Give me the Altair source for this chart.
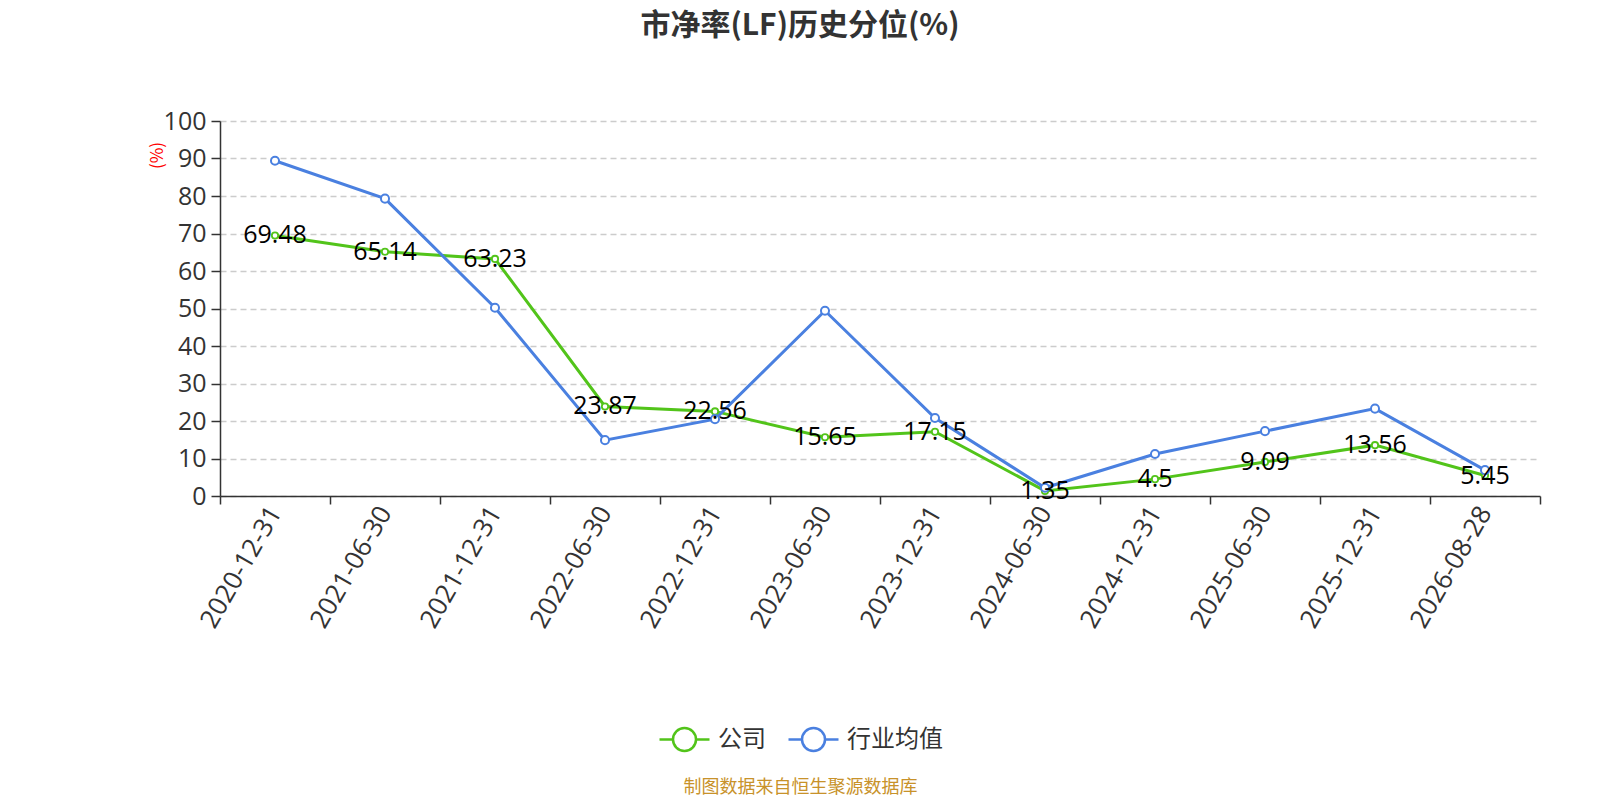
import altair as alt
import pandas as pd

dates = ["2020-12-31", "2021-06-30", "2021-12-31", "2022-06-30", "2022-12-31", "2023-06-30",
         "2023-12-31", "2024-06-30", "2024-12-31", "2025-06-30", "2025-12-31", "2026-08-28"]
company = [69.48, 65.14, 63.23, 23.87, 22.56, 15.65, 17.15, 1.35, 4.5, 9.09, 13.56, 5.45]
industry = [89.4, 79.3, 50.2, 14.9, 20.5, 49.4, 20.8, 2.2, 11.2, 17.3, 23.3, 6.9]
series_names = ["公司", "行业均值"]
colors = ["#52c41a", "#4a80e0"]

CJK = "Noto Sans CJK SC"
NUM = "Open Sans"

rows = []
for i, d in enumerate(dates):
    rows.append({"date": d, "series": series_names[0], "value": company[i], "label": f"{company[i]:g}"})
    rows.append({"date": d, "series": series_names[1], "value": industry[i], "label": ""})
df = pd.DataFrame(rows)

legend_path = ("M-1,0 L-0.46,0 M0.46,0 L1,0 "
               "M-0.46,0 A0.46,0.46 0 1,1 0.46,0 A0.46,0.46 0 1,1 -0.46,0 Z")

x = alt.X("date:N", sort=dates,
          scale=alt.Scale(type="band", paddingInner=0, paddingOuter=0),
          axis=alt.Axis(title="制图数据来自恒生聚源数据库", titleColor="#c8922a", titleFontSize=18,
                        titleFontWeight="normal", titleFont=CJK,
                        titleX=580, titleY=291, titleAnchor="middle", titleBaseline="middle",
                        labelAngle=-60, labelAlign="right", labelBaseline="middle",
                        labelFontSize=26, labelColor="#333333", labelFont=NUM, labelPadding=4,
                        tickBand="extent", tickColor="#333333", tickSize=8, tickWidth=1.5,
                        domainColor="#333333", domainWidth=1.5, grid=False))
y = alt.Y("value:Q",
          scale=alt.Scale(domain=[0, 100]),
          axis=alt.Axis(values=list(range(0, 101, 10)), title="(%)", titleColor="red",
                        titleFontSize=17, titleFontWeight="normal", titleFont=CJK,
                        titleAngle=-90, titleX=-63, titleY=34, titleAlign="center",
                        titleBaseline="middle",
                        labelFontSize=25, labelColor="#333333", labelFont=NUM, labelPadding=5,
                        tickColor="#333333", tickSize=9, tickWidth=1.5,
                        domainColor="#333333", domainWidth=1.5,
                        grid=True, gridDash=[6, 4], gridColor="#cccccc", gridWidth=1.5))
color = alt.Color("series:N", sort=series_names,
                  scale=alt.Scale(domain=series_names, range=colors),
                  legend=alt.Legend(title=None, orient="none", legendX=438, legendY=592,
                                    direction="horizontal", symbolType=legend_path,
                                    symbolSize=2500, symbolStrokeWidth=2.5,
                                    symbolFillColor="white", labelFontSize=24,
                                    labelColor="#333333", labelFont=CJK,
                                    columnPadding=17, labelOffset=7))
stroke = alt.Stroke("series:N", sort=series_names,
                    scale=alt.Scale(domain=series_names, range=colors), legend=None)

base = alt.Chart(df)
lines = base.mark_line(strokeWidth=3).encode(x=x, y=y, color=color)
points_c = base.transform_filter(alt.datum.series == "公司").mark_point(
    filled=False, fill="white", opacity=1, strokeWidth=1.8, size=40).encode(x=x, y=y, stroke=stroke)
points_i = base.transform_filter(alt.datum.series == "行业均值").mark_point(
    filled=False, fill="white", opacity=1, strokeWidth=2, size=65).encode(x=x, y=y, stroke=stroke)
labels = base.transform_filter(alt.datum.series == "公司").mark_text(
    fontSize=25, color="black", font=NUM, baseline="middle", align="center").encode(
    x=x, y=y, text="label:N")

chart = alt.layer(lines, points_c, points_i, labels).properties(
    width=1320, height=375,
    title=alt.TitleParams("市净率(LF)历史分位(%)", fontSize=30, font=CJK, fontWeight="bold",
                          color="#333333", anchor="middle", dx=-80, offset=68),
    autosize=alt.AutoSizeParams(type="none"),
    padding={"left": 212, "top": 113, "right": 40, "bottom": 304},
).configure_view(stroke=None)

chart.save("out.html", embed_options={"renderer": "svg", "actions": False})
